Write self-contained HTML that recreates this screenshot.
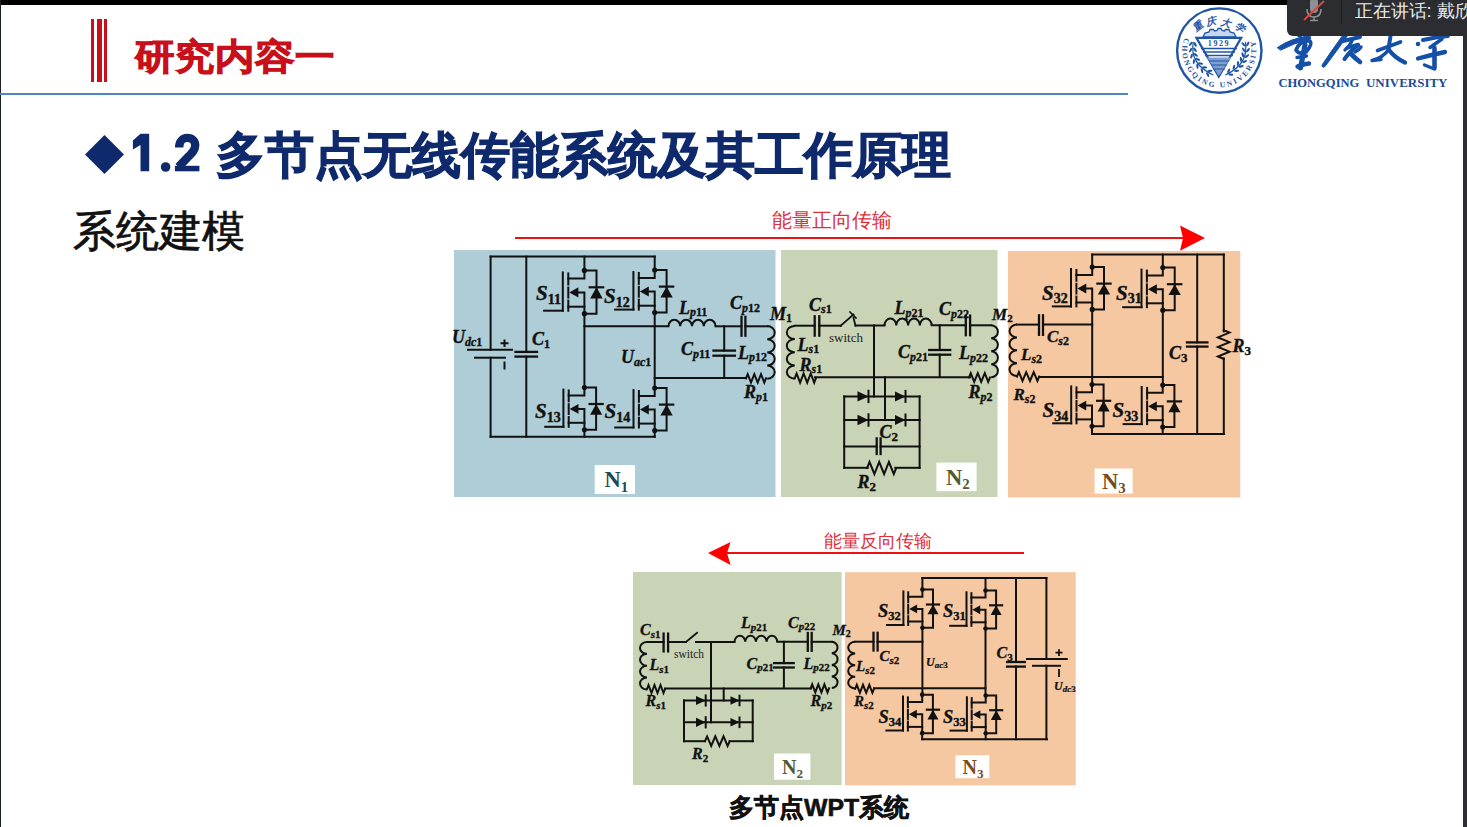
<!DOCTYPE html>
<html><head><meta charset="utf-8">
<style>
html,body{margin:0;padding:0;background:#fff;}
body{width:1467px;height:827px;position:relative;overflow:hidden;font-family:"Liberation Sans",sans-serif;}
.abs{position:absolute;}
</style></head><body>
<div class="abs" style="left:0;top:0;width:1467px;height:5px;background:#000"></div>
<div class="abs" style="left:0;top:0;width:1px;height:827px;background:#1b2024"></div>
<div class="abs" style="left:1463px;top:0;width:4px;height:827px;background:#2a2d31"></div>
<!-- red bars -->
<div class="abs" style="left:91px;top:19px;width:2.5px;height:63px;background:#c8101a"></div>
<div class="abs" style="left:96.5px;top:19px;width:5px;height:63px;background:#c8101a"></div>
<div class="abs" style="left:104px;top:19px;width:3px;height:63px;background:#c8101a"></div>
<div class="abs" style="left:135px;top:34px;font-size:40px;font-weight:bold;color:#c8101a;white-space:nowrap;line-height:50px;-webkit-text-stroke:1.1px #c8101a;transform:scaleY(0.91);transform-origin:0 0">研究内容一</div>
<div class="abs" style="left:0;top:93px;width:1128px;height:2px;background:#4f86c0"></div>
<div class="abs" style="left:84.7px;top:134.5px;width:39px;height:39px;"><svg width="39" height="39" viewBox="0 0 39 39"><path d="M19.5,0 L39,19.5 L19.5,39 L0,19.5 Z" fill="#0f2a6c"/></svg></div>
<svg class="abs" style="left:0;top:0" width="220" height="200" viewBox="0 0 220 200">
<path d="M140.5,133.7 L149.2,133.7 L149.2,171.3 L140.5,171.3 L140.5,145 L132.9,149.5 L132.9,140.5 Z" fill="#0f2a6c"/>
<circle cx="165.6" cy="167" r="4.8" fill="#0f2a6c"/>
<path d="M179.2,147.5 C179.2,141 183,137.9 187.3,137.9 C192,137.9 195.2,141 195.2,145.5 C195.2,150.5 191.5,153.8 187,158 L178.5,166.8" fill="none" stroke="#0f2a6c" stroke-width="8.4"/>
<rect x="174.9" y="165.8" width="24.5" height="5.5" fill="#0f2a6c"/>
</svg>
<div class="abs" style="left:216px;top:125px;font-size:48.7px;font-weight:bold;color:#0f2a6c;white-space:nowrap;line-height:60px;-webkit-text-stroke:1.2px #0f2a6c">多节点无线传能系统及其工作原理</div>
<div class="abs" style="left:72.5px;top:205px;font-size:43px;color:#111;white-space:nowrap;line-height:52px;-webkit-text-stroke:0.7px #111">系统建模</div>
<div class="abs" style="left:771.5px;top:206.5px;font-size:20px;color:#e0303a;white-space:nowrap;line-height:26px">能量正向传输</div>
<div class="abs" style="left:824px;top:528px;font-size:18px;color:#e0303a;white-space:nowrap;line-height:26px">能量反向传输</div>
<div class="abs" style="left:729px;top:792.5px;font-size:24.8px;font-weight:bold;color:#111;white-space:nowrap;line-height:30px;-webkit-text-stroke:0.6px #111">多节点WPT系统</div>
<svg class="abs" style="left:0;top:0" width="1467" height="827" viewBox="0 0 1467 827">
<rect x="454" y="250" width="321.5" height="247" fill="#aecdd6"/>
<rect x="781" y="250" width="216.5" height="247" fill="#c9d4b6"/>
<rect x="1008" y="251" width="232.3" height="246.5" fill="#f5c8a1"/>
<rect x="633" y="572" width="208.6" height="213" fill="#c9d4b6"/>
<rect x="845" y="572.2" width="230.7" height="213.2" fill="#f5c8a1"/>
<path d="M490.6,256.6 L654.7,256.6" fill="none" stroke="#111" stroke-width="2" stroke-linejoin="miter" stroke-linecap="square"/>
<path d="M490.6,256.6 L490.6,349.8" fill="none" stroke="#111" stroke-width="2" stroke-linejoin="miter" stroke-linecap="square"/>
<path d="M490.6,357.7 L490.6,436.8" fill="none" stroke="#111" stroke-width="2" stroke-linejoin="miter" stroke-linecap="square"/>
<path d="M468.0,349.8 L512.0,349.8" fill="none" stroke="#111" stroke-width="2" stroke-linejoin="miter" stroke-linecap="square"/>
<path d="M475.0,357.7 L505.0,357.7" fill="none" stroke="#111" stroke-width="2" stroke-linejoin="miter" stroke-linecap="square"/>
<path d="M500.5,343.3 H508.5 M504.5,339.5 V347" stroke="#111" stroke-width="2"/>
<path d="M504.5,362.5 L504.5,368.5" fill="none" stroke="#111" stroke-width="2" stroke-linejoin="miter" stroke-linecap="square"/>
<path d="M526.3,256.6 L526.3,351.9" fill="none" stroke="#111" stroke-width="2" stroke-linejoin="miter" stroke-linecap="square"/>
<path d="M526.3,356.6 L526.3,436.8" fill="none" stroke="#111" stroke-width="2" stroke-linejoin="miter" stroke-linecap="square"/>
<path d="M515.5,351.9 L537.0,351.9" fill="none" stroke="#111" stroke-width="2.3" stroke-linejoin="miter" stroke-linecap="square"/>
<path d="M515.5,356.6 L537.0,356.6" fill="none" stroke="#111" stroke-width="2.3" stroke-linejoin="miter" stroke-linecap="square"/>
<path d="M584.4,256.6 L584.4,270.4" fill="none" stroke="#111" stroke-width="2" stroke-linejoin="miter" stroke-linecap="square"/>
<path d="M654.7,256.6 L654.7,270.0" fill="none" stroke="#111" stroke-width="2" stroke-linejoin="miter" stroke-linecap="square"/>
<circle cx="584.4" cy="270.4" r="2.6181395348837206" fill="#111"/>
<circle cx="584.4" cy="313.7" r="2.6181395348837206" fill="#111"/>
<path d="M584.4,270.4 L596.5,270.4 L596.5,313.7 L584.4,313.7" fill="none" stroke="#111" stroke-width="2" stroke-linejoin="miter" stroke-linecap="square"/>
<path d="M596.5,287.3 L590.2,298.4 L602.7,298.4 Z" fill="#111"/>
<path d="M589.7,287.3 L603.2,287.3" fill="none" stroke="#111" stroke-width="2.2" stroke-linejoin="miter" stroke-linecap="square"/>
<path d="M584.4,270.4 L584.4,278.5 L568.3,278.5" fill="none" stroke="#111" stroke-width="2" stroke-linejoin="miter" stroke-linecap="square"/>
<path d="M568.3,273.4 L568.3,284.5" fill="none" stroke="#111" stroke-width="2" stroke-linejoin="miter" stroke-linecap="square"/>
<path d="M568.3,287.5 L568.3,297.6" fill="none" stroke="#111" stroke-width="2" stroke-linejoin="miter" stroke-linecap="square"/>
<path d="M568.3,300.6 L568.3,310.7" fill="none" stroke="#111" stroke-width="2" stroke-linejoin="miter" stroke-linecap="square"/>
<path d="M575.3,292.4 L584.4,292.4 L584.4,313.7" fill="none" stroke="#111" stroke-width="2" stroke-linejoin="miter" stroke-linecap="square"/>
<path d="M569.3,292.4 L578.4,287.3 L578.4,297.4 Z" fill="#111"/>
<path d="M568.3,306.7 L584.4,306.7" fill="none" stroke="#111" stroke-width="2" stroke-linejoin="miter" stroke-linecap="square"/>
<path d="M562.8,272.4 L562.8,310.7" fill="none" stroke="#111" stroke-width="2" stroke-linejoin="miter" stroke-linecap="square"/>
<path d="M544.1,310.7 L562.8,310.7" fill="none" stroke="#111" stroke-width="2" stroke-linejoin="miter" stroke-linecap="square"/>
<circle cx="584.4" cy="387.6" r="2.545581395348837" fill="#111"/>
<circle cx="584.4" cy="429.7" r="2.545581395348837" fill="#111"/>
<path d="M584.4,387.6 L596.1,387.6 L596.1,429.7 L584.4,429.7" fill="none" stroke="#111" stroke-width="2" stroke-linejoin="miter" stroke-linecap="square"/>
<path d="M596.1,404.0 L590.1,414.8 L602.2,414.8 Z" fill="#111"/>
<path d="M589.6,404.0 L602.7,404.0" fill="none" stroke="#111" stroke-width="2.2" stroke-linejoin="miter" stroke-linecap="square"/>
<path d="M584.4,387.6 L584.4,395.4 L568.7,395.4" fill="none" stroke="#111" stroke-width="2" stroke-linejoin="miter" stroke-linecap="square"/>
<path d="M568.7,390.5 L568.7,401.3" fill="none" stroke="#111" stroke-width="2" stroke-linejoin="miter" stroke-linecap="square"/>
<path d="M568.7,404.2 L568.7,414.0" fill="none" stroke="#111" stroke-width="2" stroke-linejoin="miter" stroke-linecap="square"/>
<path d="M568.7,417.0 L568.7,426.8" fill="none" stroke="#111" stroke-width="2" stroke-linejoin="miter" stroke-linecap="square"/>
<path d="M575.6,408.9 L584.4,408.9 L584.4,429.7" fill="none" stroke="#111" stroke-width="2" stroke-linejoin="miter" stroke-linecap="square"/>
<path d="M569.7,408.9 L578.5,404.0 L578.5,413.8 Z" fill="#111"/>
<path d="M568.7,422.8 L584.4,422.8" fill="none" stroke="#111" stroke-width="2" stroke-linejoin="miter" stroke-linecap="square"/>
<path d="M563.4,389.6 L563.4,426.8" fill="none" stroke="#111" stroke-width="2" stroke-linejoin="miter" stroke-linecap="square"/>
<path d="M545.2,426.8 L563.4,426.8" fill="none" stroke="#111" stroke-width="2" stroke-linejoin="miter" stroke-linecap="square"/>
<circle cx="654.7" cy="270.0" r="2.5758139534883724" fill="#111"/>
<circle cx="654.7" cy="312.6" r="2.5758139534883724" fill="#111"/>
<path d="M654.7,270.0 L666.6,270.0 L666.6,312.6 L654.7,312.6" fill="none" stroke="#111" stroke-width="2" stroke-linejoin="miter" stroke-linecap="square"/>
<path d="M666.6,286.6 L660.4,297.5 L672.7,297.5 Z" fill="#111"/>
<path d="M659.9,286.6 L673.2,286.6" fill="none" stroke="#111" stroke-width="2.2" stroke-linejoin="miter" stroke-linecap="square"/>
<path d="M654.7,270.0 L654.7,277.9 L638.8,277.9" fill="none" stroke="#111" stroke-width="2" stroke-linejoin="miter" stroke-linecap="square"/>
<path d="M638.8,273.0 L638.8,283.9" fill="none" stroke="#111" stroke-width="2" stroke-linejoin="miter" stroke-linecap="square"/>
<path d="M638.8,286.8 L638.8,296.7" fill="none" stroke="#111" stroke-width="2" stroke-linejoin="miter" stroke-linecap="square"/>
<path d="M638.8,299.7 L638.8,309.6" fill="none" stroke="#111" stroke-width="2" stroke-linejoin="miter" stroke-linecap="square"/>
<path d="M645.8,291.6 L654.7,291.6 L654.7,312.6" fill="none" stroke="#111" stroke-width="2" stroke-linejoin="miter" stroke-linecap="square"/>
<path d="M639.8,291.6 L648.8,286.6 L648.8,296.6 Z" fill="#111"/>
<path d="M638.8,305.7 L654.7,305.7" fill="none" stroke="#111" stroke-width="2" stroke-linejoin="miter" stroke-linecap="square"/>
<path d="M633.4,272.0 L633.4,309.6" fill="none" stroke="#111" stroke-width="2" stroke-linejoin="miter" stroke-linecap="square"/>
<path d="M615.1,309.6 L633.4,309.6" fill="none" stroke="#111" stroke-width="2" stroke-linejoin="miter" stroke-linecap="square"/>
<circle cx="654.7" cy="388.0" r="2.5697674418604652" fill="#111"/>
<circle cx="654.7" cy="430.5" r="2.5697674418604652" fill="#111"/>
<path d="M654.7,388.0 L666.6,388.0 L666.6,430.5 L654.7,430.5" fill="none" stroke="#111" stroke-width="2" stroke-linejoin="miter" stroke-linecap="square"/>
<path d="M666.6,404.6 L660.4,415.5 L672.7,415.5 Z" fill="#111"/>
<path d="M659.9,404.6 L673.2,404.6" fill="none" stroke="#111" stroke-width="2.2" stroke-linejoin="miter" stroke-linecap="square"/>
<path d="M654.7,388.0 L654.7,395.9 L638.9,395.9" fill="none" stroke="#111" stroke-width="2" stroke-linejoin="miter" stroke-linecap="square"/>
<path d="M638.9,391.0 L638.9,401.8" fill="none" stroke="#111" stroke-width="2" stroke-linejoin="miter" stroke-linecap="square"/>
<path d="M638.9,404.8 L638.9,414.7" fill="none" stroke="#111" stroke-width="2" stroke-linejoin="miter" stroke-linecap="square"/>
<path d="M638.9,417.7 L638.9,427.5" fill="none" stroke="#111" stroke-width="2" stroke-linejoin="miter" stroke-linecap="square"/>
<path d="M645.8,409.5 L654.7,409.5 L654.7,430.5" fill="none" stroke="#111" stroke-width="2" stroke-linejoin="miter" stroke-linecap="square"/>
<path d="M639.9,409.5 L648.8,404.6 L648.8,414.5 Z" fill="#111"/>
<path d="M638.9,423.6 L654.7,423.6" fill="none" stroke="#111" stroke-width="2" stroke-linejoin="miter" stroke-linecap="square"/>
<path d="M633.5,390.0 L633.5,427.5" fill="none" stroke="#111" stroke-width="2" stroke-linejoin="miter" stroke-linecap="square"/>
<path d="M615.2,427.5 L633.5,427.5" fill="none" stroke="#111" stroke-width="2" stroke-linejoin="miter" stroke-linecap="square"/>
<path d="M584.4,313.7 L584.4,387.6" fill="none" stroke="#111" stroke-width="2" stroke-linejoin="miter" stroke-linecap="square"/>
<path d="M654.7,312.6 L654.7,388.0" fill="none" stroke="#111" stroke-width="2" stroke-linejoin="miter" stroke-linecap="square"/>
<path d="M584.4,326.3 L668.4,326.3" fill="none" stroke="#111" stroke-width="2" stroke-linejoin="miter" stroke-linecap="square"/>
<path d="M654.7,377.9 L746.0,377.9" fill="none" stroke="#111" stroke-width="2" stroke-linejoin="miter" stroke-linecap="square"/>
<path d="M584.4,429.7 L584.4,436.8" fill="none" stroke="#111" stroke-width="2" stroke-linejoin="miter" stroke-linecap="square"/>
<path d="M654.7,430.5 L654.7,436.8" fill="none" stroke="#111" stroke-width="2" stroke-linejoin="miter" stroke-linecap="square"/>
<path d="M490.6,436.8 L654.7,436.8" fill="none" stroke="#111" stroke-width="2" stroke-linejoin="miter" stroke-linecap="square"/>
<path d="M668.4,326.3 a5.90,6.5 0 0 1 11.80,0 a5.90,6.5 0 0 1 11.80,0 a5.90,6.5 0 0 1 11.80,0 a5.90,6.5 0 0 1 11.80,0" fill="none" stroke="#111" stroke-width="2"/>
<path d="M715.6,326.3 L741.5,326.3" fill="none" stroke="#111" stroke-width="2" stroke-linejoin="miter" stroke-linecap="square"/>
<path d="M745.4,326.3 L767.2,326.3" fill="none" stroke="#111" stroke-width="2" stroke-linejoin="miter" stroke-linecap="square"/>
<path d="M741.5,316.8 L741.5,335.7" fill="none" stroke="#111" stroke-width="2.3" stroke-linejoin="miter" stroke-linecap="square"/>
<path d="M745.4,316.8 L745.4,335.7" fill="none" stroke="#111" stroke-width="2.3" stroke-linejoin="miter" stroke-linecap="square"/>
<path d="M724.2,326.3 L724.2,350.6" fill="none" stroke="#111" stroke-width="2" stroke-linejoin="miter" stroke-linecap="square"/>
<path d="M724.2,355.7 L724.2,377.9" fill="none" stroke="#111" stroke-width="2" stroke-linejoin="miter" stroke-linecap="square"/>
<path d="M713.5,350.6 L734.9,350.6" fill="none" stroke="#111" stroke-width="2.3" stroke-linejoin="miter" stroke-linecap="square"/>
<path d="M713.5,355.7 L734.9,355.7" fill="none" stroke="#111" stroke-width="2.3" stroke-linejoin="miter" stroke-linecap="square"/>
<path d="M767.2,326.1 a7.5,6.57 0 0 1 0,13.15 a7.5,6.57 0 0 1 0,13.15 a7.5,6.57 0 0 1 0,13.15 a7.5,6.57 0 0 1 0,13.15" fill="none" stroke="#111" stroke-width="2"/>
<path d="M746.0,378.4 L747.7,374.2 L751.0,382.6 L754.3,374.2 L757.7,382.6 L761.0,374.2 L764.3,382.6 L766.0,378.4" fill="none" stroke="#111" stroke-width="2" stroke-linejoin="miter" stroke-linecap="square"/>
<text x="536.0" y="300.0" font-family="Liberation Serif" font-weight="bold" font-size="21" fill="#111" stroke="#111" stroke-width="0.42"><tspan font-style="italic">S</tspan><tspan font-size="14" dy="3.5">11</tspan></text>
<text x="604.0" y="303.0" font-family="Liberation Serif" font-weight="bold" font-size="21" fill="#111" stroke="#111" stroke-width="0.42"><tspan font-style="italic">S</tspan><tspan font-size="14" dy="3.5">12</tspan></text>
<text x="535.0" y="418.0" font-family="Liberation Serif" font-weight="bold" font-size="21" fill="#111" stroke="#111" stroke-width="0.42"><tspan font-style="italic">S</tspan><tspan font-size="14" dy="3.5">13</tspan></text>
<text x="604.5" y="418.0" font-family="Liberation Serif" font-weight="bold" font-size="21" fill="#111" stroke="#111" stroke-width="0.42"><tspan font-style="italic">S</tspan><tspan font-size="14" dy="3.5">14</tspan></text>
<text x="452.0" y="342.5" font-family="Liberation Serif" font-weight="bold" font-size="18" fill="#111" stroke="#111" stroke-width="0.36"><tspan font-style="italic">U</tspan><tspan font-style="italic" font-size="12" dy="3">dc</tspan><tspan font-size="12">1</tspan></text>
<text x="532.0" y="345.0" font-family="Liberation Serif" font-weight="bold" font-size="18" fill="#111" stroke="#111" stroke-width="0.36"><tspan font-style="italic">C</tspan><tspan font-size="12" dy="3">1</tspan></text>
<text x="621.0" y="362.5" font-family="Liberation Serif" font-weight="bold" font-size="18" fill="#111" stroke="#111" stroke-width="0.36"><tspan font-style="italic">U</tspan><tspan font-style="italic" font-size="12" dy="3">ac</tspan><tspan font-size="12">1</tspan></text>
<text x="679.0" y="313.5" font-family="Liberation Serif" font-weight="bold" font-size="18" fill="#111" stroke="#111" stroke-width="0.36"><tspan font-style="italic">L</tspan><tspan font-style="italic" font-size="12" dy="2.5">p</tspan><tspan font-size="12">11</tspan></text>
<text x="730.0" y="309.0" font-family="Liberation Serif" font-weight="bold" font-size="18" fill="#111" stroke="#111" stroke-width="0.36"><tspan font-style="italic">C</tspan><tspan font-style="italic" font-size="12" dy="2.5">p</tspan><tspan font-size="12">12</tspan></text>
<text x="681.0" y="355.0" font-family="Liberation Serif" font-weight="bold" font-size="18" fill="#111" stroke="#111" stroke-width="0.36"><tspan font-style="italic">C</tspan><tspan font-style="italic" font-size="12" dy="2.5">p</tspan><tspan font-size="12">11</tspan></text>
<text x="738.0" y="358.5" font-family="Liberation Serif" font-weight="bold" font-size="18" fill="#111" stroke="#111" stroke-width="0.36"><tspan font-style="italic">L</tspan><tspan font-style="italic" font-size="12" dy="2.5">p</tspan><tspan font-size="12">12</tspan></text>
<text x="770.0" y="319.5" font-family="Liberation Serif" font-weight="bold" font-size="18" fill="#111" stroke="#111" stroke-width="0.36"><tspan font-style="italic">M</tspan><tspan font-size="12" dy="2">1</tspan></text>
<text x="744.0" y="398.0" font-family="Liberation Serif" font-weight="bold" font-size="18" fill="#111" stroke="#111" stroke-width="0.36"><tspan font-style="italic">R</tspan><tspan font-style="italic" font-size="12" dy="2.5">p</tspan><tspan font-size="12">1</tspan></text>
<rect x="594.7" y="465" width="40.299999999999955" height="29" fill="#fff"/>
<text x="604.5" y="487.0" font-family="Liberation Serif" font-weight="bold" font-size="22.5" fill="#1f4a52">N<tspan font-size="14.9" dy="4.5">1</tspan></text>
<path d="M794.8,325.9 a8,6.60 0 0 0 0,13.20 a8,6.60 0 0 0 0,13.20 a8,6.60 0 0 0 0,13.20 a8,6.60 0 0 0 0,13.20" fill="none" stroke="#111" stroke-width="2"/>
<path d="M794.8,325.7 L814.7,325.7" fill="none" stroke="#111" stroke-width="2" stroke-linejoin="miter" stroke-linecap="square"/>
<path d="M814.7,316.3 L814.7,335.6" fill="none" stroke="#111" stroke-width="2.3" stroke-linejoin="miter" stroke-linecap="square"/>
<path d="M819.3,316.3 L819.3,335.6" fill="none" stroke="#111" stroke-width="2.3" stroke-linejoin="miter" stroke-linecap="square"/>
<path d="M819.3,325.7 L840.7,325.7" fill="none" stroke="#111" stroke-width="2" stroke-linejoin="miter" stroke-linecap="square"/>
<path d="M840.7,325.7 L853.5,314.5" fill="none" stroke="#111" stroke-width="1.8" stroke-linejoin="miter" stroke-linecap="square"/>
<path d="M850.0,312.0 L856.0,318.0" fill="none" stroke="#111" stroke-width="1.6" stroke-linejoin="miter" stroke-linecap="square"/>
<path d="M853.5,318.0 L855.5,325.7" fill="none" stroke="#111" stroke-width="1.8" stroke-linejoin="miter" stroke-linecap="square"/>
<path d="M855.5,325.5 L884.5,325.5" fill="none" stroke="#111" stroke-width="2" stroke-linejoin="miter" stroke-linecap="square"/>
<path d="M874.0,325.5 L874.0,396.4" fill="none" stroke="#111" stroke-width="2" stroke-linejoin="miter" stroke-linecap="square"/>
<path d="M884.5,325.4 a5.90,6.8 0 0 1 11.80,0 a5.90,6.8 0 0 1 11.80,0 a5.90,6.8 0 0 1 11.80,0 a5.90,6.8 0 0 1 11.80,0" fill="none" stroke="#111" stroke-width="2"/>
<path d="M931.7,325.3 L965.8,325.3" fill="none" stroke="#111" stroke-width="2" stroke-linejoin="miter" stroke-linecap="square"/>
<path d="M970.1,325.3 L991.2,325.3" fill="none" stroke="#111" stroke-width="2" stroke-linejoin="miter" stroke-linecap="square"/>
<path d="M965.8,315.6 L965.8,335.2" fill="none" stroke="#111" stroke-width="2.3" stroke-linejoin="miter" stroke-linecap="square"/>
<path d="M970.1,315.6 L970.1,335.2" fill="none" stroke="#111" stroke-width="2.3" stroke-linejoin="miter" stroke-linecap="square"/>
<path d="M991.2,325.3 a7,6.49 0 0 1 0,12.97 a7,6.49 0 0 1 0,12.97 a7,6.49 0 0 1 0,12.97 a7,6.49 0 0 1 0,12.97" fill="none" stroke="#111" stroke-width="2"/>
<path d="M939.7,325.3 L939.7,350.0" fill="none" stroke="#111" stroke-width="2" stroke-linejoin="miter" stroke-linecap="square"/>
<path d="M939.7,354.7 L939.7,377.0" fill="none" stroke="#111" stroke-width="2" stroke-linejoin="miter" stroke-linecap="square"/>
<path d="M929.2,350.0 L950.2,350.0" fill="none" stroke="#111" stroke-width="2.3" stroke-linejoin="miter" stroke-linecap="square"/>
<path d="M929.2,354.7 L950.2,354.7" fill="none" stroke="#111" stroke-width="2.3" stroke-linejoin="miter" stroke-linecap="square"/>
<path d="M794.8,378.1 L796.6,373.5 L800.1,382.7 L803.6,373.5 L807.2,382.7 L810.7,373.5 L814.2,382.7 L816.0,378.1" fill="none" stroke="#111" stroke-width="2" stroke-linejoin="miter" stroke-linecap="square"/>
<path d="M815.0,377.2 L970.0,377.2" fill="none" stroke="#111" stroke-width="2" stroke-linejoin="miter" stroke-linecap="square"/>
<path d="M969.0,377.5 L970.8,373.1 L974.2,381.9 L977.8,373.1 L981.2,381.9 L984.8,373.1 L988.2,381.9 L990.0,377.5" fill="none" stroke="#111" stroke-width="2" stroke-linejoin="miter" stroke-linecap="square"/>
<path d="M885.0,377.2 L885.0,420.0" fill="none" stroke="#111" stroke-width="2" stroke-linejoin="miter" stroke-linecap="square"/>
<path d="M844.2,396.4 L919.6,396.4" fill="none" stroke="#111" stroke-width="2" stroke-linejoin="miter" stroke-linecap="square"/>
<path d="M844.2,420.0 L919.6,420.0" fill="none" stroke="#111" stroke-width="2" stroke-linejoin="miter" stroke-linecap="square"/>
<path d="M844.2,396.4 L844.2,467.8" fill="none" stroke="#111" stroke-width="2" stroke-linejoin="miter" stroke-linecap="square"/>
<path d="M919.6,396.4 L919.6,467.8" fill="none" stroke="#111" stroke-width="2" stroke-linejoin="miter" stroke-linecap="square"/>
<path d="M857.5,391.2 L868.5,396.4 L857.5,401.6 Z" fill="#111"/>
<path d="M868.5,390.7 L868.5,402.1" fill="none" stroke="#111" stroke-width="2" stroke-linejoin="miter" stroke-linecap="square"/>
<path d="M895.0,391.4 L905.5,396.4 L895.0,401.4 Z" fill="#111"/>
<path d="M905.5,390.9 L905.5,401.9" fill="none" stroke="#111" stroke-width="2" stroke-linejoin="miter" stroke-linecap="square"/>
<path d="M857.5,414.8 L868.5,420.0 L857.5,425.2 Z" fill="#111"/>
<path d="M868.5,414.3 L868.5,425.7" fill="none" stroke="#111" stroke-width="2" stroke-linejoin="miter" stroke-linecap="square"/>
<path d="M895.0,415.0 L905.5,420.0 L895.0,425.0 Z" fill="#111"/>
<path d="M905.5,414.5 L905.5,425.5" fill="none" stroke="#111" stroke-width="2" stroke-linejoin="miter" stroke-linecap="square"/>
<path d="M844.2,446.6 L876.7,446.6" fill="none" stroke="#111" stroke-width="2" stroke-linejoin="miter" stroke-linecap="square"/>
<path d="M880.6,446.6 L919.6,446.6" fill="none" stroke="#111" stroke-width="2" stroke-linejoin="miter" stroke-linecap="square"/>
<path d="M876.7,438.4 L876.7,454.0" fill="none" stroke="#111" stroke-width="2.3" stroke-linejoin="miter" stroke-linecap="square"/>
<path d="M880.6,438.4 L880.6,454.0" fill="none" stroke="#111" stroke-width="2.3" stroke-linejoin="miter" stroke-linecap="square"/>
<path d="M844.2,467.8 L867.7,467.8" fill="none" stroke="#111" stroke-width="2" stroke-linejoin="miter" stroke-linecap="square"/>
<path d="M895.3,467.8 L919.6,467.8" fill="none" stroke="#111" stroke-width="2" stroke-linejoin="miter" stroke-linecap="square"/>
<path d="M867.1,468.0 L869.5,462.0 L874.4,474.0 L879.2,462.0 L884.1,474.0 L888.9,462.0 L893.8,474.0 L896.2,468.0" fill="none" stroke="#111" stroke-width="2" stroke-linejoin="miter" stroke-linecap="square"/>
<text x="809.0" y="310.5" font-family="Liberation Serif" font-weight="bold" font-size="18" fill="#111" stroke="#111" stroke-width="0.36"><tspan font-style="italic">C</tspan><tspan font-style="italic" font-size="12" dy="2.5">s</tspan><tspan font-size="12">1</tspan></text>
<text x="829.0" y="341.5" font-family="Liberation Serif" font-size="13" fill="#222">switch</text>
<text x="797.5" y="350.5" font-family="Liberation Serif" font-weight="bold" font-size="18" fill="#111" stroke="#111" stroke-width="0.36"><tspan font-style="italic">L</tspan><tspan font-style="italic" font-size="12" dy="2.5">s</tspan><tspan font-size="12">1</tspan></text>
<text x="799.5" y="370.5" font-family="Liberation Serif" font-weight="bold" font-size="18" fill="#111" stroke="#111" stroke-width="0.36"><tspan font-style="italic">R</tspan><tspan font-style="italic" font-size="12" dy="2.5">s</tspan><tspan font-size="12">1</tspan></text>
<text x="894.5" y="314.0" font-family="Liberation Serif" font-weight="bold" font-size="18" fill="#111" stroke="#111" stroke-width="0.36"><tspan font-style="italic">L</tspan><tspan font-style="italic" font-size="12" dy="2.5">p</tspan><tspan font-size="12">21</tspan></text>
<text x="939.0" y="315.0" font-family="Liberation Serif" font-weight="bold" font-size="18" fill="#111" stroke="#111" stroke-width="0.36"><tspan font-style="italic">C</tspan><tspan font-style="italic" font-size="12" dy="2.5">p</tspan><tspan font-size="12">22</tspan></text>
<text x="898.0" y="358.0" font-family="Liberation Serif" font-weight="bold" font-size="18" fill="#111" stroke="#111" stroke-width="0.36"><tspan font-style="italic">C</tspan><tspan font-style="italic" font-size="12" dy="2.5">p</tspan><tspan font-size="12">21</tspan></text>
<text x="959.0" y="359.0" font-family="Liberation Serif" font-weight="bold" font-size="18" fill="#111" stroke="#111" stroke-width="0.36"><tspan font-style="italic">L</tspan><tspan font-style="italic" font-size="12" dy="2.5">p</tspan><tspan font-size="12">22</tspan></text>
<text x="968.5" y="398.0" font-family="Liberation Serif" font-weight="bold" font-size="18" fill="#111" stroke="#111" stroke-width="0.36"><tspan font-style="italic">R</tspan><tspan font-style="italic" font-size="12" dy="2.5">p</tspan><tspan font-size="12">2</tspan></text>
<text x="992.0" y="320.0" font-family="Liberation Serif" font-weight="bold" font-size="17" fill="#111" stroke="#111" stroke-width="0.34"><tspan font-style="italic">M</tspan><tspan font-size="11" dy="2">2</tspan></text>
<text x="879.5" y="438.0" font-family="Liberation Serif" font-weight="bold" font-size="18" fill="#111" stroke="#111" stroke-width="0.36"><tspan font-style="italic">C</tspan><tspan font-size="13" dy="3">2</tspan></text>
<text x="857.5" y="488.0" font-family="Liberation Serif" font-weight="bold" font-size="18" fill="#111" stroke="#111" stroke-width="0.36"><tspan font-style="italic">R</tspan><tspan font-size="13" dy="3">2</tspan></text>
<rect x="936.4" y="462.6" width="40.200000000000045" height="28.599999999999966" fill="#fff"/>
<text x="946.0" y="484.5" font-family="Liberation Serif" font-weight="bold" font-size="22.5" fill="#4e5a33">N<tspan font-size="14.9" dy="4.5">2</tspan></text>
<path d="M1017.0,324.6 a7.5,6.42 0 0 0 0,12.85 a7.5,6.42 0 0 0 0,12.85 a7.5,6.42 0 0 0 0,12.85 a7.5,6.42 0 0 0 0,12.85" fill="none" stroke="#111" stroke-width="2"/>
<path d="M1017.0,324.6 L1039.0,324.6" fill="none" stroke="#111" stroke-width="2" stroke-linejoin="miter" stroke-linecap="square"/>
<path d="M1043.0,324.6 L1092.2,324.6" fill="none" stroke="#111" stroke-width="2" stroke-linejoin="miter" stroke-linecap="square"/>
<path d="M1039.0,315.3 L1039.0,334.8" fill="none" stroke="#111" stroke-width="2.3" stroke-linejoin="miter" stroke-linecap="square"/>
<path d="M1043.0,315.3 L1043.0,334.8" fill="none" stroke="#111" stroke-width="2.3" stroke-linejoin="miter" stroke-linecap="square"/>
<path d="M1017.0,376.6 L1018.9,372.2 L1022.5,381.0 L1026.2,372.2 L1030.0,381.0 L1033.7,372.2 L1037.4,381.0 L1039.2,376.6" fill="none" stroke="#111" stroke-width="2" stroke-linejoin="miter" stroke-linecap="square"/>
<path d="M1039.2,377.0 L1162.7,377.0" fill="none" stroke="#111" stroke-width="2" stroke-linejoin="miter" stroke-linecap="square"/>
<path d="M1092.2,254.6 L1223.8,254.6" fill="none" stroke="#111" stroke-width="2" stroke-linejoin="miter" stroke-linecap="square"/>
<path d="M1092.2,254.6 L1092.2,267.0" fill="none" stroke="#111" stroke-width="2" stroke-linejoin="miter" stroke-linecap="square"/>
<path d="M1162.8,254.6 L1162.8,267.6" fill="none" stroke="#111" stroke-width="2" stroke-linejoin="miter" stroke-linecap="square"/>
<circle cx="1092.2" cy="267.0" r="2.563720930232558" fill="#111"/>
<circle cx="1092.2" cy="309.4" r="2.563720930232558" fill="#111"/>
<path d="M1092.2,267.0 L1104.0,267.0 L1104.0,309.4 L1092.2,309.4" fill="none" stroke="#111" stroke-width="2" stroke-linejoin="miter" stroke-linecap="square"/>
<path d="M1104.0,283.6 L1097.9,294.4 L1110.1,294.4 Z" fill="#111"/>
<path d="M1097.4,283.6 L1110.6,283.6" fill="none" stroke="#111" stroke-width="2.2" stroke-linejoin="miter" stroke-linecap="square"/>
<path d="M1092.2,267.0 L1092.2,274.9 L1076.4,274.9" fill="none" stroke="#111" stroke-width="2" stroke-linejoin="miter" stroke-linecap="square"/>
<path d="M1076.4,270.0 L1076.4,280.8" fill="none" stroke="#111" stroke-width="2" stroke-linejoin="miter" stroke-linecap="square"/>
<path d="M1076.4,283.8 L1076.4,293.6" fill="none" stroke="#111" stroke-width="2" stroke-linejoin="miter" stroke-linecap="square"/>
<path d="M1076.4,296.6 L1076.4,306.4" fill="none" stroke="#111" stroke-width="2" stroke-linejoin="miter" stroke-linecap="square"/>
<path d="M1083.3,288.5 L1092.2,288.5 L1092.2,309.4" fill="none" stroke="#111" stroke-width="2" stroke-linejoin="miter" stroke-linecap="square"/>
<path d="M1077.4,288.5 L1086.3,283.6 L1086.3,293.4 Z" fill="#111"/>
<path d="M1076.4,302.5 L1092.2,302.5" fill="none" stroke="#111" stroke-width="2" stroke-linejoin="miter" stroke-linecap="square"/>
<path d="M1071.0,269.0 L1071.0,306.4" fill="none" stroke="#111" stroke-width="2" stroke-linejoin="miter" stroke-linecap="square"/>
<path d="M1052.8,306.4 L1071.0,306.4" fill="none" stroke="#111" stroke-width="2" stroke-linejoin="miter" stroke-linecap="square"/>
<circle cx="1162.8" cy="267.6" r="2.5758139534883724" fill="#111"/>
<circle cx="1162.8" cy="310.2" r="2.5758139534883724" fill="#111"/>
<path d="M1162.8,267.6 L1174.7,267.6 L1174.7,310.2 L1162.8,310.2" fill="none" stroke="#111" stroke-width="2" stroke-linejoin="miter" stroke-linecap="square"/>
<path d="M1174.7,284.2 L1168.5,295.1 L1180.8,295.1 Z" fill="#111"/>
<path d="M1168.0,284.2 L1181.3,284.2" fill="none" stroke="#111" stroke-width="2.2" stroke-linejoin="miter" stroke-linecap="square"/>
<path d="M1162.8,267.6 L1162.8,275.5 L1146.9,275.5" fill="none" stroke="#111" stroke-width="2" stroke-linejoin="miter" stroke-linecap="square"/>
<path d="M1146.9,270.6 L1146.9,281.5" fill="none" stroke="#111" stroke-width="2" stroke-linejoin="miter" stroke-linecap="square"/>
<path d="M1146.9,284.4 L1146.9,294.3" fill="none" stroke="#111" stroke-width="2" stroke-linejoin="miter" stroke-linecap="square"/>
<path d="M1146.9,297.3 L1146.9,307.2" fill="none" stroke="#111" stroke-width="2" stroke-linejoin="miter" stroke-linecap="square"/>
<path d="M1153.9,289.2 L1162.8,289.2 L1162.8,310.2" fill="none" stroke="#111" stroke-width="2" stroke-linejoin="miter" stroke-linecap="square"/>
<path d="M1147.9,289.2 L1156.9,284.2 L1156.9,294.2 Z" fill="#111"/>
<path d="M1146.9,303.3 L1162.8,303.3" fill="none" stroke="#111" stroke-width="2" stroke-linejoin="miter" stroke-linecap="square"/>
<path d="M1141.5,269.6 L1141.5,307.2" fill="none" stroke="#111" stroke-width="2" stroke-linejoin="miter" stroke-linecap="square"/>
<path d="M1123.2,307.2 L1141.5,307.2" fill="none" stroke="#111" stroke-width="2" stroke-linejoin="miter" stroke-linecap="square"/>
<circle cx="1092.0" cy="384.5" r="2.5213953488372094" fill="#111"/>
<circle cx="1092.0" cy="426.2" r="2.5213953488372094" fill="#111"/>
<path d="M1092.0,384.5 L1103.6,384.5 L1103.6,426.2 L1092.0,426.2" fill="none" stroke="#111" stroke-width="2" stroke-linejoin="miter" stroke-linecap="square"/>
<path d="M1103.6,400.8 L1097.6,411.5 L1109.6,411.5 Z" fill="#111"/>
<path d="M1097.1,400.8 L1110.1,400.8" fill="none" stroke="#111" stroke-width="2.2" stroke-linejoin="miter" stroke-linecap="square"/>
<path d="M1092.0,384.5 L1092.0,392.3 L1076.5,392.3" fill="none" stroke="#111" stroke-width="2" stroke-linejoin="miter" stroke-linecap="square"/>
<path d="M1076.5,387.4 L1076.5,398.1" fill="none" stroke="#111" stroke-width="2" stroke-linejoin="miter" stroke-linecap="square"/>
<path d="M1076.5,401.0 L1076.5,410.7" fill="none" stroke="#111" stroke-width="2" stroke-linejoin="miter" stroke-linecap="square"/>
<path d="M1076.5,413.6 L1076.5,423.3" fill="none" stroke="#111" stroke-width="2" stroke-linejoin="miter" stroke-linecap="square"/>
<path d="M1083.3,405.6 L1092.0,405.6 L1092.0,426.2" fill="none" stroke="#111" stroke-width="2" stroke-linejoin="miter" stroke-linecap="square"/>
<path d="M1077.5,405.6 L1086.2,400.8 L1086.2,410.5 Z" fill="#111"/>
<path d="M1076.5,419.4 L1092.0,419.4" fill="none" stroke="#111" stroke-width="2" stroke-linejoin="miter" stroke-linecap="square"/>
<path d="M1071.2,386.4 L1071.2,423.3" fill="none" stroke="#111" stroke-width="2" stroke-linejoin="miter" stroke-linecap="square"/>
<path d="M1053.2,423.3 L1071.2,423.3" fill="none" stroke="#111" stroke-width="2" stroke-linejoin="miter" stroke-linecap="square"/>
<circle cx="1162.7" cy="385.0" r="2.5395348837209304" fill="#111"/>
<circle cx="1162.7" cy="427.0" r="2.5395348837209304" fill="#111"/>
<path d="M1162.7,385.0 L1174.4,385.0 L1174.4,427.0 L1162.7,427.0" fill="none" stroke="#111" stroke-width="2" stroke-linejoin="miter" stroke-linecap="square"/>
<path d="M1174.4,401.4 L1168.4,412.2 L1180.5,412.2 Z" fill="#111"/>
<path d="M1167.9,401.4 L1181.0,401.4" fill="none" stroke="#111" stroke-width="2.2" stroke-linejoin="miter" stroke-linecap="square"/>
<path d="M1162.7,385.0 L1162.7,392.8 L1147.1,392.8" fill="none" stroke="#111" stroke-width="2" stroke-linejoin="miter" stroke-linecap="square"/>
<path d="M1147.1,387.9 L1147.1,398.7" fill="none" stroke="#111" stroke-width="2" stroke-linejoin="miter" stroke-linecap="square"/>
<path d="M1147.1,401.6 L1147.1,411.4" fill="none" stroke="#111" stroke-width="2" stroke-linejoin="miter" stroke-linecap="square"/>
<path d="M1147.1,414.3 L1147.1,424.1" fill="none" stroke="#111" stroke-width="2" stroke-linejoin="miter" stroke-linecap="square"/>
<path d="M1153.9,406.3 L1162.7,406.3 L1162.7,427.0" fill="none" stroke="#111" stroke-width="2" stroke-linejoin="miter" stroke-linecap="square"/>
<path d="M1148.1,406.3 L1156.8,401.4 L1156.8,411.2 Z" fill="#111"/>
<path d="M1147.1,420.2 L1162.7,420.2" fill="none" stroke="#111" stroke-width="2" stroke-linejoin="miter" stroke-linecap="square"/>
<path d="M1141.7,387.0 L1141.7,424.1" fill="none" stroke="#111" stroke-width="2" stroke-linejoin="miter" stroke-linecap="square"/>
<path d="M1123.6,424.1 L1141.7,424.1" fill="none" stroke="#111" stroke-width="2" stroke-linejoin="miter" stroke-linecap="square"/>
<path d="M1092.2,309.4 L1092.2,384.5" fill="none" stroke="#111" stroke-width="2" stroke-linejoin="miter" stroke-linecap="square"/>
<path d="M1162.8,310.2 L1162.8,385.0" fill="none" stroke="#111" stroke-width="2" stroke-linejoin="miter" stroke-linecap="square"/>
<path d="M1092.0,434.0 L1224.1,434.0" fill="none" stroke="#111" stroke-width="2" stroke-linejoin="miter" stroke-linecap="square"/>
<path d="M1092.0,426.2 L1092.0,434.0" fill="none" stroke="#111" stroke-width="2" stroke-linejoin="miter" stroke-linecap="square"/>
<path d="M1162.7,427.0 L1162.7,434.0" fill="none" stroke="#111" stroke-width="2" stroke-linejoin="miter" stroke-linecap="square"/>
<path d="M1197.2,254.6 L1197.2,342.4" fill="none" stroke="#111" stroke-width="2" stroke-linejoin="miter" stroke-linecap="square"/>
<path d="M1197.2,346.6 L1197.2,434.0" fill="none" stroke="#111" stroke-width="2" stroke-linejoin="miter" stroke-linecap="square"/>
<path d="M1187.0,342.4 L1207.4,342.4" fill="none" stroke="#111" stroke-width="2.3" stroke-linejoin="miter" stroke-linecap="square"/>
<path d="M1187.0,346.6 L1207.4,346.6" fill="none" stroke="#111" stroke-width="2.3" stroke-linejoin="miter" stroke-linecap="square"/>
<path d="M1223.8,254.6 L1223.8,331.4" fill="none" stroke="#111" stroke-width="2" stroke-linejoin="miter" stroke-linecap="square"/>
<path d="M1223.8,358.4 L1223.8,434.0" fill="none" stroke="#111" stroke-width="2" stroke-linejoin="miter" stroke-linecap="square"/>
<path d="M1223.7,330.2 L1229.5,332.6 L1217.9,337.4 L1229.5,342.2 L1217.9,346.9 L1229.5,351.7 L1217.9,356.5 L1223.7,358.9" fill="none" stroke="#111" stroke-width="2" stroke-linejoin="miter" stroke-linecap="square"/>
<text x="1042.0" y="299.5" font-family="Liberation Serif" font-weight="bold" font-size="21" fill="#111" stroke="#111" stroke-width="0.42"><tspan font-style="italic">S</tspan><tspan font-size="14" dy="3.5">32</tspan></text>
<text x="1116.0" y="299.5" font-family="Liberation Serif" font-weight="bold" font-size="21" fill="#111" stroke="#111" stroke-width="0.42"><tspan font-style="italic">S</tspan><tspan font-size="14" dy="3.5">31</tspan></text>
<text x="1042.5" y="417.0" font-family="Liberation Serif" font-weight="bold" font-size="21" fill="#111" stroke="#111" stroke-width="0.42"><tspan font-style="italic">S</tspan><tspan font-size="14" dy="3.5">34</tspan></text>
<text x="1112.5" y="417.0" font-family="Liberation Serif" font-weight="bold" font-size="21" fill="#111" stroke="#111" stroke-width="0.42"><tspan font-style="italic">S</tspan><tspan font-size="14" dy="3.5">33</tspan></text>
<text x="1047.0" y="342.0" font-family="Liberation Serif" font-weight="bold" font-size="17" fill="#111" stroke="#111" stroke-width="0.34"><tspan font-style="italic">C</tspan><tspan font-style="italic" font-size="12" dy="3">s</tspan><tspan font-size="12">2</tspan></text>
<text x="1021.0" y="359.5" font-family="Liberation Serif" font-weight="bold" font-size="17" fill="#111" stroke="#111" stroke-width="0.34"><tspan font-style="italic">L</tspan><tspan font-style="italic" font-size="12" dy="3">s</tspan><tspan font-size="12">2</tspan></text>
<text x="1013.5" y="399.5" font-family="Liberation Serif" font-weight="bold" font-size="17" fill="#111" stroke="#111" stroke-width="0.34"><tspan font-style="italic">R</tspan><tspan font-style="italic" font-size="12" dy="3">s</tspan><tspan font-size="12">2</tspan></text>
<text x="1169.0" y="359.0" font-family="Liberation Serif" font-weight="bold" font-size="18" fill="#111" stroke="#111" stroke-width="0.36"><tspan font-style="italic">C</tspan><tspan font-size="13" dy="3">3</tspan></text>
<text x="1232.5" y="352.0" font-family="Liberation Serif" font-weight="bold" font-size="18" fill="#111" stroke="#111" stroke-width="0.36"><tspan font-style="italic">R</tspan><tspan font-size="13" dy="3">3</tspan></text>
<rect x="1094.6" y="468.5" width="38.0" height="25.100000000000023" fill="#fff"/>
<text x="1102.0" y="488.5" font-family="Liberation Serif" font-weight="bold" font-size="22.5" fill="#7a4a1a">N<tspan font-size="14.9" dy="4.5">3</tspan></text>
<path d="M647.0,642.0 a7,5.92 0 0 0 0,11.85 a7,5.92 0 0 0 0,11.85 a7,5.92 0 0 0 0,11.85 a7,5.92 0 0 0 0,11.85" fill="none" stroke="#111" stroke-width="2"/>
<path d="M647.0,642.0 L663.6,642.0" fill="none" stroke="#111" stroke-width="2" stroke-linejoin="miter" stroke-linecap="square"/>
<path d="M663.6,633.6 L663.6,651.4" fill="none" stroke="#111" stroke-width="2.3" stroke-linejoin="miter" stroke-linecap="square"/>
<path d="M668.1,633.6 L668.1,651.4" fill="none" stroke="#111" stroke-width="2.3" stroke-linejoin="miter" stroke-linecap="square"/>
<path d="M668.1,642.0 L686.0,642.0" fill="none" stroke="#111" stroke-width="2" stroke-linejoin="miter" stroke-linecap="square"/>
<path d="M686.0,642.0 L697.0,632.8" fill="none" stroke="#111" stroke-width="1.8" stroke-linejoin="miter" stroke-linecap="square"/>
<path d="M696.0,642.0 L734.5,642.0" fill="none" stroke="#111" stroke-width="2" stroke-linejoin="miter" stroke-linecap="square"/>
<path d="M711.0,642.0 L711.0,722.3" fill="none" stroke="#111" stroke-width="2" stroke-linejoin="miter" stroke-linecap="square"/>
<path d="M734.5,641.8 a5.35,6 0 0 1 10.70,0 a5.35,6 0 0 1 10.70,0 a5.35,6 0 0 1 10.70,0 a5.35,6 0 0 1 10.70,0" fill="none" stroke="#111" stroke-width="2"/>
<path d="M777.3,641.8 L807.8,641.8" fill="none" stroke="#111" stroke-width="2" stroke-linejoin="miter" stroke-linecap="square"/>
<path d="M811.7,641.8 L831.8,641.8" fill="none" stroke="#111" stroke-width="2" stroke-linejoin="miter" stroke-linecap="square"/>
<path d="M807.8,633.0 L807.8,650.8" fill="none" stroke="#111" stroke-width="2.3" stroke-linejoin="miter" stroke-linecap="square"/>
<path d="M811.7,633.0 L811.7,650.8" fill="none" stroke="#111" stroke-width="2.3" stroke-linejoin="miter" stroke-linecap="square"/>
<path d="M831.8,641.8 a6,5.78 0 0 1 0,11.55 a6,5.78 0 0 1 0,11.55 a6,5.78 0 0 1 0,11.55 a6,5.78 0 0 1 0,11.55" fill="none" stroke="#111" stroke-width="2"/>
<path d="M783.9,641.8 L783.9,663.1" fill="none" stroke="#111" stroke-width="2" stroke-linejoin="miter" stroke-linecap="square"/>
<path d="M783.9,667.5 L783.9,688.0" fill="none" stroke="#111" stroke-width="2" stroke-linejoin="miter" stroke-linecap="square"/>
<path d="M774.1,663.1 L793.7,663.1" fill="none" stroke="#111" stroke-width="2.3" stroke-linejoin="miter" stroke-linecap="square"/>
<path d="M774.1,667.5 L793.7,667.5" fill="none" stroke="#111" stroke-width="2.3" stroke-linejoin="miter" stroke-linecap="square"/>
<path d="M647.0,689.0 L648.5,685.0 L651.5,693.0 L654.5,685.0 L657.5,693.0 L660.5,685.0 L663.5,693.0 L665.0,689.0" fill="none" stroke="#111" stroke-width="2" stroke-linejoin="miter" stroke-linecap="square"/>
<path d="M665.0,688.5 L810.7,688.5" fill="none" stroke="#111" stroke-width="2" stroke-linejoin="miter" stroke-linecap="square"/>
<path d="M810.7,688.4 L812.2,684.4 L815.3,692.4 L818.3,684.4 L821.4,692.4 L824.4,684.4 L827.5,692.4 L829.0,688.4" fill="none" stroke="#111" stroke-width="2" stroke-linejoin="miter" stroke-linecap="square"/>
<path d="M723.7,688.5 L723.7,700.5" fill="none" stroke="#111" stroke-width="2" stroke-linejoin="miter" stroke-linecap="square"/>
<path d="M684.0,700.5 L752.7,700.5" fill="none" stroke="#111" stroke-width="2" stroke-linejoin="miter" stroke-linecap="square"/>
<path d="M684.0,722.3 L752.7,722.3" fill="none" stroke="#111" stroke-width="2" stroke-linejoin="miter" stroke-linecap="square"/>
<path d="M684.0,700.5 L684.0,741.2" fill="none" stroke="#111" stroke-width="2" stroke-linejoin="miter" stroke-linecap="square"/>
<path d="M752.7,700.5 L752.7,741.2" fill="none" stroke="#111" stroke-width="2" stroke-linejoin="miter" stroke-linecap="square"/>
<path d="M696.0,695.9 L705.7,700.5 L696.0,705.1 Z" fill="#111"/>
<path d="M705.7,695.4 L705.7,705.6" fill="none" stroke="#111" stroke-width="2" stroke-linejoin="miter" stroke-linecap="square"/>
<path d="M730.5,696.2 L739.5,700.5 L730.5,704.8 Z" fill="#111"/>
<path d="M739.5,695.7 L739.5,705.3" fill="none" stroke="#111" stroke-width="2" stroke-linejoin="miter" stroke-linecap="square"/>
<path d="M696.0,717.7 L705.7,722.3 L696.0,726.9 Z" fill="#111"/>
<path d="M705.7,717.2 L705.7,727.4" fill="none" stroke="#111" stroke-width="2" stroke-linejoin="miter" stroke-linecap="square"/>
<path d="M730.5,718.0 L739.5,722.3 L730.5,726.6 Z" fill="#111"/>
<path d="M739.5,717.5 L739.5,727.1" fill="none" stroke="#111" stroke-width="2" stroke-linejoin="miter" stroke-linecap="square"/>
<path d="M684.0,741.2 L705.0,741.2" fill="none" stroke="#111" stroke-width="2" stroke-linejoin="miter" stroke-linecap="square"/>
<path d="M729.7,741.2 L752.7,741.2" fill="none" stroke="#111" stroke-width="2" stroke-linejoin="miter" stroke-linecap="square"/>
<path d="M705.0,741.2 L707.1,736.4 L711.2,746.0 L715.3,736.4 L719.4,746.0 L723.5,736.4 L727.6,746.0 L729.7,741.2" fill="none" stroke="#111" stroke-width="2" stroke-linejoin="miter" stroke-linecap="square"/>
<text x="640.0" y="635.0" font-family="Liberation Serif" font-weight="bold" font-size="16" fill="#111" stroke="#111" stroke-width="0.32"><tspan font-style="italic">C</tspan><tspan font-style="italic" font-size="11" dy="3">s</tspan><tspan font-size="11">1</tspan></text>
<text x="674.0" y="658.0" font-family="Liberation Serif" font-size="11.5" fill="#222">switch</text>
<text x="649.5" y="669.5" font-family="Liberation Serif" font-weight="bold" font-size="16" fill="#111" stroke="#111" stroke-width="0.32"><tspan font-style="italic">L</tspan><tspan font-style="italic" font-size="11" dy="3">s</tspan><tspan font-size="11">1</tspan></text>
<text x="645.5" y="706.0" font-family="Liberation Serif" font-weight="bold" font-size="16" fill="#111" stroke="#111" stroke-width="0.32"><tspan font-style="italic">R</tspan><tspan font-style="italic" font-size="11" dy="3">s</tspan><tspan font-size="11">1</tspan></text>
<text x="741.0" y="628.0" font-family="Liberation Serif" font-weight="bold" font-size="16" fill="#111" stroke="#111" stroke-width="0.32"><tspan font-style="italic">L</tspan><tspan font-style="italic" font-size="11" dy="2.5">p</tspan><tspan font-size="11">21</tspan></text>
<text x="788.0" y="627.5" font-family="Liberation Serif" font-weight="bold" font-size="16" fill="#111" stroke="#111" stroke-width="0.32"><tspan font-style="italic">C</tspan><tspan font-style="italic" font-size="11" dy="2.5">p</tspan><tspan font-size="11">22</tspan></text>
<text x="746.5" y="668.5" font-family="Liberation Serif" font-weight="bold" font-size="16" fill="#111" stroke="#111" stroke-width="0.32"><tspan font-style="italic">C</tspan><tspan font-style="italic" font-size="11" dy="2.5">p</tspan><tspan font-size="11">21</tspan></text>
<text x="803.5" y="668.5" font-family="Liberation Serif" font-weight="bold" font-size="16" fill="#111" stroke="#111" stroke-width="0.32"><tspan font-style="italic">L</tspan><tspan font-style="italic" font-size="11" dy="2.5">p</tspan><tspan font-size="11">22</tspan></text>
<text x="810.5" y="706.0" font-family="Liberation Serif" font-weight="bold" font-size="16" fill="#111" stroke="#111" stroke-width="0.32"><tspan font-style="italic">R</tspan><tspan font-style="italic" font-size="11" dy="3">p</tspan><tspan font-size="11">2</tspan></text>
<text x="832.5" y="634.5" font-family="Liberation Serif" font-weight="bold" font-size="15" fill="#111" stroke="#111" stroke-width="0.30"><tspan font-style="italic">M</tspan><tspan font-size="10" dy="2">2</tspan></text>
<text x="692.0" y="759.0" font-family="Liberation Serif" font-weight="bold" font-size="16" fill="#111" stroke="#111" stroke-width="0.32"><tspan font-style="italic">R</tspan><tspan font-size="11" dy="3">2</tspan></text>
<rect x="774" y="753.5" width="36.39999999999998" height="26.200000000000045" fill="#fff"/>
<text x="782.0" y="773.8" font-family="Liberation Serif" font-weight="bold" font-size="20" fill="#4e5a33">N<tspan font-size="13.2" dy="3.8">2</tspan></text>
<path d="M855.2,641.7 a7,5.86 0 0 0 0,11.72 a7,5.86 0 0 0 0,11.72 a7,5.86 0 0 0 0,11.72 a7,5.86 0 0 0 0,11.72" fill="none" stroke="#111" stroke-width="2"/>
<path d="M855.2,641.7 L873.5,641.7" fill="none" stroke="#111" stroke-width="2" stroke-linejoin="miter" stroke-linecap="square"/>
<path d="M877.6,641.7 L922.4,641.7" fill="none" stroke="#111" stroke-width="2" stroke-linejoin="miter" stroke-linecap="square"/>
<path d="M873.5,632.8 L873.5,650.5" fill="none" stroke="#111" stroke-width="2.3" stroke-linejoin="miter" stroke-linecap="square"/>
<path d="M877.6,632.8 L877.6,650.5" fill="none" stroke="#111" stroke-width="2.3" stroke-linejoin="miter" stroke-linecap="square"/>
<path d="M855.2,688.8 L856.8,684.8 L859.9,692.8 L863.0,684.8 L866.2,692.8 L869.3,684.8 L872.4,692.8 L874.0,688.8" fill="none" stroke="#111" stroke-width="2" stroke-linejoin="miter" stroke-linecap="square"/>
<path d="M874.0,688.3 L985.5,688.3" fill="none" stroke="#111" stroke-width="2" stroke-linejoin="miter" stroke-linecap="square"/>
<path d="M922.4,578.0 L1046.4,578.0" fill="none" stroke="#111" stroke-width="2" stroke-linejoin="miter" stroke-linecap="square"/>
<path d="M922.4,578.0 L922.4,589.6" fill="none" stroke="#111" stroke-width="2" stroke-linejoin="miter" stroke-linecap="square"/>
<path d="M985.5,578.0 L985.5,590.5" fill="none" stroke="#111" stroke-width="2" stroke-linejoin="miter" stroke-linecap="square"/>
<circle cx="922.4" cy="589.6" r="2.3037209302325583" fill="#111"/>
<circle cx="922.4" cy="627.7" r="2.3037209302325583" fill="#111"/>
<path d="M922.4,589.6 L933.0,589.6 L933.0,627.7 L922.4,627.7" fill="none" stroke="#111" stroke-width="2" stroke-linejoin="miter" stroke-linecap="square"/>
<path d="M933.0,604.5 L927.5,614.2 L938.5,614.2 Z" fill="#111"/>
<path d="M927.0,604.5 L939.0,604.5" fill="none" stroke="#111" stroke-width="2.2" stroke-linejoin="miter" stroke-linecap="square"/>
<path d="M922.4,589.6 L922.4,596.7 L908.2,596.7" fill="none" stroke="#111" stroke-width="2" stroke-linejoin="miter" stroke-linecap="square"/>
<path d="M908.2,592.3 L908.2,602.0" fill="none" stroke="#111" stroke-width="2" stroke-linejoin="miter" stroke-linecap="square"/>
<path d="M908.2,604.7 L908.2,613.5" fill="none" stroke="#111" stroke-width="2" stroke-linejoin="miter" stroke-linecap="square"/>
<path d="M908.2,616.2 L908.2,625.0" fill="none" stroke="#111" stroke-width="2" stroke-linejoin="miter" stroke-linecap="square"/>
<path d="M914.4,608.9 L922.4,608.9 L922.4,627.7" fill="none" stroke="#111" stroke-width="2" stroke-linejoin="miter" stroke-linecap="square"/>
<path d="M909.2,608.9 L917.1,604.5 L917.1,613.3 Z" fill="#111"/>
<path d="M908.2,621.5 L922.4,621.5" fill="none" stroke="#111" stroke-width="2" stroke-linejoin="miter" stroke-linecap="square"/>
<path d="M903.4,591.4 L903.4,625.0" fill="none" stroke="#111" stroke-width="2" stroke-linejoin="miter" stroke-linecap="square"/>
<path d="M887.0,625.0 L903.4,625.0" fill="none" stroke="#111" stroke-width="2" stroke-linejoin="miter" stroke-linecap="square"/>
<circle cx="985.5" cy="590.5" r="2.297674418604651" fill="#111"/>
<circle cx="985.5" cy="628.5" r="2.297674418604651" fill="#111"/>
<path d="M985.5,590.5 L996.1,590.5 L996.1,628.5 L985.5,628.5" fill="none" stroke="#111" stroke-width="2" stroke-linejoin="miter" stroke-linecap="square"/>
<path d="M996.1,605.3 L990.6,615.1 L1001.6,615.1 Z" fill="#111"/>
<path d="M990.1,605.3 L1002.1,605.3" fill="none" stroke="#111" stroke-width="2.2" stroke-linejoin="miter" stroke-linecap="square"/>
<path d="M985.5,590.5 L985.5,597.6 L971.4,597.6" fill="none" stroke="#111" stroke-width="2" stroke-linejoin="miter" stroke-linecap="square"/>
<path d="M971.4,593.2 L971.4,602.9" fill="none" stroke="#111" stroke-width="2" stroke-linejoin="miter" stroke-linecap="square"/>
<path d="M971.4,605.5 L971.4,614.4" fill="none" stroke="#111" stroke-width="2" stroke-linejoin="miter" stroke-linecap="square"/>
<path d="M971.4,617.0 L971.4,625.8" fill="none" stroke="#111" stroke-width="2" stroke-linejoin="miter" stroke-linecap="square"/>
<path d="M977.5,609.8 L985.5,609.8 L985.5,628.5" fill="none" stroke="#111" stroke-width="2" stroke-linejoin="miter" stroke-linecap="square"/>
<path d="M972.4,609.8 L980.2,605.3 L980.2,614.2 Z" fill="#111"/>
<path d="M971.4,622.3 L985.5,622.3" fill="none" stroke="#111" stroke-width="2" stroke-linejoin="miter" stroke-linecap="square"/>
<path d="M966.5,592.3 L966.5,625.8" fill="none" stroke="#111" stroke-width="2" stroke-linejoin="miter" stroke-linecap="square"/>
<path d="M950.2,625.8 L966.5,625.8" fill="none" stroke="#111" stroke-width="2" stroke-linejoin="miter" stroke-linecap="square"/>
<circle cx="922.2" cy="694.7" r="2.327906976744186" fill="#111"/>
<circle cx="922.2" cy="733.2" r="2.327906976744186" fill="#111"/>
<path d="M922.2,694.7 L932.9,694.7 L932.9,733.2 L922.2,733.2" fill="none" stroke="#111" stroke-width="2" stroke-linejoin="miter" stroke-linecap="square"/>
<path d="M932.9,709.7 L927.4,719.6 L938.5,719.6 Z" fill="#111"/>
<path d="M926.9,709.7 L939.0,709.7" fill="none" stroke="#111" stroke-width="2.2" stroke-linejoin="miter" stroke-linecap="square"/>
<path d="M922.2,694.7 L922.2,701.9 L907.9,701.9" fill="none" stroke="#111" stroke-width="2" stroke-linejoin="miter" stroke-linecap="square"/>
<path d="M907.9,697.4 L907.9,707.2" fill="none" stroke="#111" stroke-width="2" stroke-linejoin="miter" stroke-linecap="square"/>
<path d="M907.9,709.9 L907.9,718.9" fill="none" stroke="#111" stroke-width="2" stroke-linejoin="miter" stroke-linecap="square"/>
<path d="M907.9,721.6 L907.9,730.5" fill="none" stroke="#111" stroke-width="2" stroke-linejoin="miter" stroke-linecap="square"/>
<path d="M914.1,714.2 L922.2,714.2 L922.2,733.2" fill="none" stroke="#111" stroke-width="2" stroke-linejoin="miter" stroke-linecap="square"/>
<path d="M908.9,714.2 L916.8,709.7 L916.8,718.7 Z" fill="#111"/>
<path d="M907.9,726.9 L922.2,726.9" fill="none" stroke="#111" stroke-width="2" stroke-linejoin="miter" stroke-linecap="square"/>
<path d="M903.0,696.5 L903.0,730.5" fill="none" stroke="#111" stroke-width="2" stroke-linejoin="miter" stroke-linecap="square"/>
<path d="M886.4,730.5 L903.0,730.5" fill="none" stroke="#111" stroke-width="2" stroke-linejoin="miter" stroke-linecap="square"/>
<circle cx="985.7" cy="695.5" r="2.2795348837209306" fill="#111"/>
<circle cx="985.7" cy="733.2" r="2.2795348837209306" fill="#111"/>
<path d="M985.7,695.5 L996.2,695.5 L996.2,733.2 L985.7,733.2" fill="none" stroke="#111" stroke-width="2" stroke-linejoin="miter" stroke-linecap="square"/>
<path d="M996.2,710.2 L990.8,719.9 L1001.7,719.9 Z" fill="#111"/>
<path d="M990.3,710.2 L1002.2,710.2" fill="none" stroke="#111" stroke-width="2.2" stroke-linejoin="miter" stroke-linecap="square"/>
<path d="M985.7,695.5 L985.7,702.5 L971.7,702.5" fill="none" stroke="#111" stroke-width="2" stroke-linejoin="miter" stroke-linecap="square"/>
<path d="M971.7,698.1 L971.7,707.8" fill="none" stroke="#111" stroke-width="2" stroke-linejoin="miter" stroke-linecap="square"/>
<path d="M971.7,710.4 L971.7,719.2" fill="none" stroke="#111" stroke-width="2" stroke-linejoin="miter" stroke-linecap="square"/>
<path d="M971.7,721.8 L971.7,730.6" fill="none" stroke="#111" stroke-width="2" stroke-linejoin="miter" stroke-linecap="square"/>
<path d="M977.8,714.6 L985.7,714.6 L985.7,733.2" fill="none" stroke="#111" stroke-width="2" stroke-linejoin="miter" stroke-linecap="square"/>
<path d="M972.7,714.6 L980.4,710.2 L980.4,719.0 Z" fill="#111"/>
<path d="M971.7,727.1 L985.7,727.1" fill="none" stroke="#111" stroke-width="2" stroke-linejoin="miter" stroke-linecap="square"/>
<path d="M966.9,697.3 L966.9,730.6" fill="none" stroke="#111" stroke-width="2" stroke-linejoin="miter" stroke-linecap="square"/>
<path d="M950.6,730.6 L966.9,730.6" fill="none" stroke="#111" stroke-width="2" stroke-linejoin="miter" stroke-linecap="square"/>
<path d="M922.4,627.7 L922.4,694.7" fill="none" stroke="#111" stroke-width="2" stroke-linejoin="miter" stroke-linecap="square"/>
<path d="M985.5,628.5 L985.5,695.5" fill="none" stroke="#111" stroke-width="2" stroke-linejoin="miter" stroke-linecap="square"/>
<path d="M922.2,739.2 L1047.0,739.2" fill="none" stroke="#111" stroke-width="2" stroke-linejoin="miter" stroke-linecap="square"/>
<path d="M922.2,733.2 L922.2,739.2" fill="none" stroke="#111" stroke-width="2" stroke-linejoin="miter" stroke-linecap="square"/>
<path d="M985.7,733.2 L985.7,739.2" fill="none" stroke="#111" stroke-width="2" stroke-linejoin="miter" stroke-linecap="square"/>
<path d="M1016.0,578.0 L1016.0,662.0" fill="none" stroke="#111" stroke-width="2" stroke-linejoin="miter" stroke-linecap="square"/>
<path d="M1016.0,666.6 L1016.0,739.2" fill="none" stroke="#111" stroke-width="2" stroke-linejoin="miter" stroke-linecap="square"/>
<path d="M1007.1,662.0 L1024.8,662.0" fill="none" stroke="#111" stroke-width="2.3" stroke-linejoin="miter" stroke-linecap="square"/>
<path d="M1007.1,666.6 L1024.8,666.6" fill="none" stroke="#111" stroke-width="2.3" stroke-linejoin="miter" stroke-linecap="square"/>
<path d="M1046.4,578.0 L1046.4,659.0" fill="none" stroke="#111" stroke-width="2" stroke-linejoin="miter" stroke-linecap="square"/>
<path d="M1046.4,665.8 L1046.4,739.2" fill="none" stroke="#111" stroke-width="2" stroke-linejoin="miter" stroke-linecap="square"/>
<path d="M1027.0,659.0 L1066.8,659.0" fill="none" stroke="#111" stroke-width="2" stroke-linejoin="miter" stroke-linecap="square"/>
<path d="M1033.0,665.8 L1060.0,665.8" fill="none" stroke="#111" stroke-width="2" stroke-linejoin="miter" stroke-linecap="square"/>
<path d="M1055.5,652.7 H1062.5 M1059,649.2 V656" stroke="#111" stroke-width="1.8"/>
<path d="M1059.0,670.0 L1059.0,676.0" fill="none" stroke="#111" stroke-width="1.8" stroke-linejoin="miter" stroke-linecap="square"/>
<text x="878.0" y="616.5" font-family="Liberation Serif" font-weight="bold" font-size="18.5" fill="#111" stroke="#111" stroke-width="0.37"><tspan font-style="italic">S</tspan><tspan font-size="12.5" dy="3">32</tspan></text>
<text x="943.0" y="616.5" font-family="Liberation Serif" font-weight="bold" font-size="18.5" fill="#111" stroke="#111" stroke-width="0.37"><tspan font-style="italic">S</tspan><tspan font-size="12.5" dy="3">31</tspan></text>
<text x="878.5" y="722.5" font-family="Liberation Serif" font-weight="bold" font-size="18.5" fill="#111" stroke="#111" stroke-width="0.37"><tspan font-style="italic">S</tspan><tspan font-size="12.5" dy="3">34</tspan></text>
<text x="943.0" y="722.5" font-family="Liberation Serif" font-weight="bold" font-size="18.5" fill="#111" stroke="#111" stroke-width="0.37"><tspan font-style="italic">S</tspan><tspan font-size="12.5" dy="3">33</tspan></text>
<text x="879.5" y="661.0" font-family="Liberation Serif" font-weight="bold" font-size="15" fill="#111" stroke="#111" stroke-width="0.30"><tspan font-style="italic">C</tspan><tspan font-style="italic" font-size="11" dy="3">s</tspan><tspan font-size="11">2</tspan></text>
<text x="856.0" y="670.5" font-family="Liberation Serif" font-weight="bold" font-size="15" fill="#111" stroke="#111" stroke-width="0.30"><tspan font-style="italic">L</tspan><tspan font-style="italic" font-size="11" dy="3">s</tspan><tspan font-size="11">2</tspan></text>
<text x="854.0" y="706.0" font-family="Liberation Serif" font-weight="bold" font-size="15" fill="#111" stroke="#111" stroke-width="0.30"><tspan font-style="italic">R</tspan><tspan font-style="italic" font-size="11" dy="3">s</tspan><tspan font-size="11">2</tspan></text>
<text x="926.0" y="666.0" font-family="Liberation Serif" font-weight="bold" font-size="12" fill="#111" stroke="#111" stroke-width="0.24"><tspan font-style="italic">U</tspan><tspan font-style="italic" font-size="9" dy="2">ac</tspan><tspan font-size="9">3</tspan></text>
<text x="996.5" y="658.0" font-family="Liberation Serif" font-weight="bold" font-size="16" fill="#111" stroke="#111" stroke-width="0.32"><tspan font-style="italic">C</tspan><tspan font-size="11" dy="3">3</tspan></text>
<text x="1054.0" y="690.0" font-family="Liberation Serif" font-weight="bold" font-size="12" fill="#111" stroke="#111" stroke-width="0.24"><tspan font-style="italic">U</tspan><tspan font-style="italic" font-size="9" dy="2">dc</tspan><tspan font-size="9">3</tspan></text>
<rect x="955.4" y="755.3" width="33.89999999999998" height="22.90000000000009" fill="#fff"/>
<text x="962.5" y="774.2" font-family="Liberation Serif" font-weight="bold" font-size="20" fill="#7a4a1a">N<tspan font-size="13.2" dy="3.8">3</tspan></text>
<path d="M515,237.9 H1183" stroke="#f01010" stroke-width="2" fill="none"/>
<path d="M1180,225.4 L1205,237.9 L1180,250.8 L1183,237.9 Z" fill="#ff0000"/>
<path d="M727,553 H1024" stroke="#f01010" stroke-width="2" fill="none"/>
<path d="M708,553 L730.6,542 L727,553 L730.6,564.9 Z" fill="#ff0000"/>
</svg>
<!-- logo -->
<svg class="abs" style="left:1170px;top:0" width="297" height="100" viewBox="1170 0 297 100">
<circle cx="1219.3" cy="50.6" r="42.2" fill="none" stroke="#1f55a5" stroke-width="2.4"/>
<defs><path id="arcB" d="M1184.5,37.9 A37,37 0 1,0 1254.1,37.9"/><path id="arcT" d="M1197.5,41 A24,24 0 0,1 1241.1,41"/></defs>
<text font-family="Liberation Serif" font-weight="bold" font-size="7.6" fill="#1f55a5"><textPath href="#arcB" textLength="138" lengthAdjust="spacing">CHONGQING UNIVERSITY</textPath></text>
<g font-size="10" font-weight="bold" font-style="italic" fill="#1f55a5" text-anchor="middle">
<text x="1198" y="29.5" transform="rotate(-38 1198 26)">重</text>
<text x="1211" y="25" transform="rotate(-14 1211 21.5)">庆</text>
<text x="1226" y="26.5" transform="rotate(14 1226 23)">大</text>
<text x="1240" y="30.5" transform="rotate(38 1240 27)">学</text>
</g>
<path d="M1203,37 L1205,33 L1209,32 L1210,29.5 L1213.5,29.5 L1214.5,31 L1217,30.5 L1218,28.5 L1221,28.5 L1222,30.5 L1224.5,31 L1225.5,29.5 L1229,29.5 L1230,32 L1234,33 L1236,37 Z" fill="#c9d6ee" stroke="#1f55a5" stroke-width="1.3"/>
<path d="M1196.4,37.8 L1241.2,37.8 L1218.8,76.5 Z" fill="#fff" stroke="#1f55a5" stroke-width="2.2" stroke-linejoin="miter"/>
<text x="1219" y="46" text-anchor="middle" font-family="Liberation Serif" font-weight="bold" font-size="8" fill="#1f55a5" letter-spacing="1.6">1929</text>
<path d="M1201,48.5 H1237 M1203,52 H1235 M1205,55.5 H1233" stroke="#1f55a5" stroke-width="1.4"/>
<path d="M1207,57.5 L1231,57.5 L1218.8,76 Z" fill="#7f9fd2"/>
<path d="M1209,61 L1229,61 M1211,65 L1227,65 M1213,69 L1225,69" stroke="#1f55a5" stroke-width="1"/>
<path d="M1193.3,42.0 Q1189.3,64.0 1213.3,75.0" fill="none" stroke="#1f55a5" stroke-width="1.2"/>
<ellipse cx="1195.2" cy="44.4" rx="2.6" ry="1.1" transform="rotate(61 1195.2 44.4)" fill="#1f55a5"/>
<ellipse cx="1190.8" cy="43.9" rx="2.6" ry="1.1" transform="rotate(131 1190.8 43.9)" fill="#1f55a5"/>
<ellipse cx="1195.0" cy="49.8" rx="2.6" ry="1.1" transform="rotate(50 1195.0 49.8)" fill="#1f55a5"/>
<ellipse cx="1190.6" cy="50.2" rx="2.6" ry="1.1" transform="rotate(120 1190.6 50.2)" fill="#1f55a5"/>
<ellipse cx="1195.8" cy="54.8" rx="2.6" ry="1.1" transform="rotate(38 1195.8 54.8)" fill="#1f55a5"/>
<ellipse cx="1191.6" cy="56.1" rx="2.6" ry="1.1" transform="rotate(108 1191.6 56.1)" fill="#1f55a5"/>
<ellipse cx="1197.7" cy="59.3" rx="2.6" ry="1.1" transform="rotate(25 1197.7 59.3)" fill="#1f55a5"/>
<ellipse cx="1193.9" cy="61.5" rx="2.6" ry="1.1" transform="rotate(95 1193.9 61.5)" fill="#1f55a5"/>
<ellipse cx="1200.7" cy="63.5" rx="2.6" ry="1.1" transform="rotate(13 1200.7 63.5)" fill="#1f55a5"/>
<ellipse cx="1197.4" cy="66.4" rx="2.6" ry="1.1" transform="rotate(83 1197.4 66.4)" fill="#1f55a5"/>
<ellipse cx="1204.7" cy="67.3" rx="2.6" ry="1.1" transform="rotate(3 1204.7 67.3)" fill="#1f55a5"/>
<ellipse cx="1202.0" cy="70.8" rx="2.6" ry="1.1" transform="rotate(73 1202.0 70.8)" fill="#1f55a5"/>
<ellipse cx="1209.9" cy="70.8" rx="2.6" ry="1.1" transform="rotate(-6 1209.9 70.8)" fill="#1f55a5"/>
<ellipse cx="1207.7" cy="74.6" rx="2.6" ry="1.1" transform="rotate(64 1207.7 74.6)" fill="#1f55a5"/>
<path d="M1245.3,42.0 Q1249.3,64.0 1225.3,75.0" fill="none" stroke="#1f55a5" stroke-width="1.2"/>
<ellipse cx="1247.8" cy="43.9" rx="2.6" ry="1.1" transform="rotate(119 1247.8 43.9)" fill="#1f55a5"/>
<ellipse cx="1243.4" cy="44.4" rx="2.6" ry="1.1" transform="rotate(49 1243.4 44.4)" fill="#1f55a5"/>
<ellipse cx="1248.0" cy="50.2" rx="2.6" ry="1.1" transform="rotate(130 1248.0 50.2)" fill="#1f55a5"/>
<ellipse cx="1243.6" cy="49.8" rx="2.6" ry="1.1" transform="rotate(60 1243.6 49.8)" fill="#1f55a5"/>
<ellipse cx="1247.0" cy="56.1" rx="2.6" ry="1.1" transform="rotate(142 1247.0 56.1)" fill="#1f55a5"/>
<ellipse cx="1242.8" cy="54.8" rx="2.6" ry="1.1" transform="rotate(72 1242.8 54.8)" fill="#1f55a5"/>
<ellipse cx="1244.7" cy="61.5" rx="2.6" ry="1.1" transform="rotate(155 1244.7 61.5)" fill="#1f55a5"/>
<ellipse cx="1240.9" cy="59.3" rx="2.6" ry="1.1" transform="rotate(85 1240.9 59.3)" fill="#1f55a5"/>
<ellipse cx="1241.2" cy="66.4" rx="2.6" ry="1.1" transform="rotate(167 1241.2 66.4)" fill="#1f55a5"/>
<ellipse cx="1237.9" cy="63.5" rx="2.6" ry="1.1" transform="rotate(97 1237.9 63.5)" fill="#1f55a5"/>
<ellipse cx="1236.6" cy="70.8" rx="2.6" ry="1.1" transform="rotate(177 1236.6 70.8)" fill="#1f55a5"/>
<ellipse cx="1233.9" cy="67.3" rx="2.6" ry="1.1" transform="rotate(107 1233.9 67.3)" fill="#1f55a5"/>
<ellipse cx="1230.9" cy="74.6" rx="2.6" ry="1.1" transform="rotate(186 1230.9 74.6)" fill="#1f55a5"/>
<ellipse cx="1228.7" cy="70.8" rx="2.6" ry="1.1" transform="rotate(116 1228.7 70.8)" fill="#1f55a5"/>
<g fill="none" stroke="#1550a8" stroke-linecap="round" stroke-linejoin="round">
<path d="M1277.5,47.5 Q1290,38.5 1310,35.5 L1310.5,39 Q1294,43 1281,50 Z" fill="#1550a8" stroke-width="1"/>
<path d="M1296,50 Q1300,40 1310,41 Q1313,44 1306,52 Q1299,55 1296,50" stroke-width="3.68"/>
<path d="M1305,45 L1300.5,68" stroke-width="5.17"/>
<path d="M1297,57.5 L1306.5,56" stroke-width="3.45"/>
<path d="M1297.5,66.5 Q1303,64 1309,63.5" stroke-width="4.37"/>
<path d="M1292,30 L1300,36" stroke-width="4.02"/>
<path d="M1343,35 L1348,35 Q1336,52 1325,66.5 Q1322,68.5 1322,65 Q1332,50 1343,35 Z" fill="#1550a8" stroke-width="1"/>
<path d="M1343,41 Q1352,39 1360,37" stroke-width="4.02"/>
<path d="M1347,48 Q1352,46 1358,44.5" stroke-width="3.68"/>
<path d="M1344.5,59 Q1351,50 1358,45" stroke-width="4.02"/>
<path d="M1350,53 Q1355,58 1360,62" stroke-width="4.60"/>
<path d="M1391,33 L1388.5,48.5" stroke-width="4.02"/>
<path d="M1377.5,50.5 Q1390,46 1400.5,42" stroke-width="3.68"/>
<path d="M1389,49 Q1383,58 1372,60.5 L1381,59.5" stroke-width="3.45"/>
<path d="M1389,50 Q1395,58 1405,62.5" stroke-width="4.37"/>
<circle cx="1418" cy="44" r="2.3" fill="#1550a8" stroke="none"/>
<path d="M1423,40 Q1436,37 1448,36" stroke-width="4.02"/>
<path d="M1442,39 L1430,47.5" stroke-width="3.45"/>
<path d="M1418,58.5 Q1431,55 1445,52" stroke-width="4.37"/>
<path d="M1434.5,48 L1434.5,68" stroke-width="4.60"/>
<path d="M1424.5,65 L1434.5,69" stroke-width="3.45"/>
<path d="M1352,41 Q1349,47 1345,50" stroke-width="3.4"/>
<path d="M1355,52 Q1359,50 1361,47" stroke-width="3.4"/>
</g>
<text x="1278.4" y="87" font-family="Liberation Serif" font-weight="bold" font-size="13.2" fill="#1b4c98" textLength="81" lengthAdjust="spacingAndGlyphs">CHONGQING</text>
<text x="1366" y="87" font-family="Liberation Serif" font-weight="bold" font-size="13.2" fill="#1b4c98" textLength="81.5" lengthAdjust="spacingAndGlyphs">UNIVERSITY</text>
</svg>
<!-- overlay -->
<div class="abs" style="left:1287px;top:-8px;width:190px;height:44px;background:#2b2d31;border-radius:6px"></div>
<svg class="abs" style="left:1300px;top:0" width="30" height="24" viewBox="0 0 30 24">
<rect x="10" y="-2" width="8" height="15" rx="4" fill="#8d9096"/>
<path d="M7,9 Q7,17 14,17 Q21,17 21,9" fill="none" stroke="#8d9096" stroke-width="1.6"/>
<path d="M14,17 V20 M10,20.5 H18" stroke="#8d9096" stroke-width="1.6"/>
<path d="M4,20 L24,1" stroke="#e0483c" stroke-width="1.8"/>
</svg>
<div class="abs" style="left:1341px;top:0;width:1px;height:24px;background:#1d1e21"></div>
<div class="abs" style="left:1354.5px;top:-1.5px;font-size:18px;color:#ececec;white-space:nowrap;line-height:24px">正在讲话: 戴欣</div>
</body></html>
